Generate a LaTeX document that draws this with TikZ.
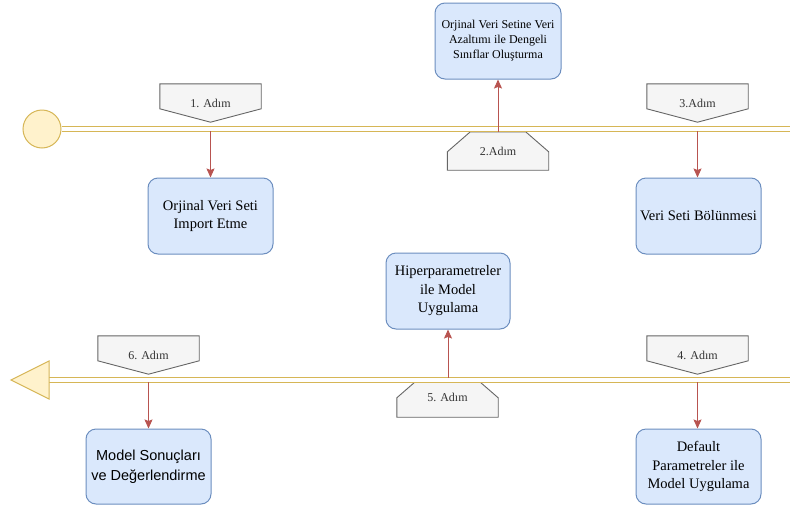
\documentclass[tikz,border=0pt]{standalone}
\usepackage{fontspec}
\setmainfont{Liberation Serif}
\newfontfamily\arialf{Liberation Sans}
\usetikzlibrary{arrows.meta,calc}
\pgfdeclarelayer{bg}
\pgfsetlayers{bg,main}
\definecolor{boxfill}{HTML}{DAE8FC}
\definecolor{boxline}{HTML}{6C8EBF}
\definecolor{stepfill}{HTML}{F5F5F5}
\definecolor{stepline}{HTML}{666666}
\definecolor{steptext}{HTML}{333333}
\definecolor{railc}{HTML}{D6B656}
\definecolor{railfill}{HTML}{FFF2CC}
\definecolor{arrc}{HTML}{B85450}
\begin{document}
\begin{tikzpicture}[x=1pt,y=-1pt,
 box/.style={draw=boxline,fill=boxfill,line width=1pt,rounded corners=10pt,
   minimum width=125pt,minimum height=76pt,align=center,inner sep=2pt,
   font=\fontsize{14.5}{18.5}\selectfont},
 steplbl/.style={minimum width=101pt,minimum height=38pt,inner sep=0pt,
   text=steptext,font=\fontsize{12}{14}\selectfont},
 stepshape/.style={draw=stepline,fill=stepfill,line width=0.9pt},
 rail/.style={draw=railc,double=white,double distance=4pt,line width=1.1pt},
 railend/.style={draw=railc,fill=railfill,line width=1pt},
 arr/.style={draw=arrc,line width=1pt,-{Stealth[length=9pt,width=8pt,inset=1.5pt]}}]

\useasboundingbox (0,0) rectangle (790,509);

% top rail
\node[railend,circle,minimum size=38pt,inner sep=0pt] (start) at (42,129) {};
\coordinate (r1end) at (790,129);
\draw[rail] (start.east) -- (r1end);

% bottom rail
\coordinate (tip) at (11,380);
\coordinate (tbase) at (49,380);
\coordinate (r2end) at (790,380);
\draw[rail] (tbase) -- (r2end);
\draw[railend] (tip) -- ([yshift=19pt]tbase) -- ([yshift=-19pt]tbase) -- cycle;

% boxes
\node[box] (b1) at (210.5,216) {Orjinal Veri Seti\\Import Etme};
\node[box,minimum width=126pt,font=\fontsize{12}{15}\selectfont] (b2) at (498,41)
  {Orjinal Veri Setine Veri\\Azaltımı ile Dengeli\\Sınıflar Oluşturma};
\node[box] (b3) at (698.5,216) {Veri Seti Bölünmesi};
\node[box,minimum width=124pt] (b5) at (448,291) {Hiperparametreler\\ile Model\\Uygulama};
\node[box,minimum height=75pt,font=\arialf\fontsize{14.5}{19.5}\selectfont] (b6) at (148.5,466.5)
  {Model Sonuçları\\ve Değerlendirme};
\node[box,minimum height=75pt] (b4) at (698.5,466.5) {Default\\Parametreler ile\\Model Uygulama};

% step labels
\node[steplbl] (s1) at (210.5,103) {1. Adım};
\node[steplbl] (s3) at (697.5,103) {3.Adım};
\node[steplbl] (s6) at (148.5,355) {6. Adım};
\node[steplbl] (s4) at (697.5,355) {4. Adım};
\node[steplbl] (s2) at (498,151) {2.Adım};
\node[steplbl,minimum height=39pt] (s5) at (447.5,397.5) {5. Adım};

\begin{pgfonlayer}{bg}
\foreach \s in {s1,s3,s6,s4}{
  \draw[stepshape] (\s.north west) -- (\s.north east) -- ([yshift=-25pt]\s.north east)
    -- (\s.south) -- ([yshift=-25pt]\s.north west) -- cycle;
}
\foreach \s in {s2,s5}{
  \draw[stepshape] (\s.south west) -- (\s.south east) -- ([yshift=-20pt]\s.north east)
    -- ([xshift=-23pt]\s.north east) -- ([xshift=23pt]\s.north west)
    -- ([yshift=-20pt]\s.north west) -- cycle;
}
\end{pgfonlayer}

% arrows
\draw[arr] ($(s1.south)+(0,9)$) -- (s1.south |- b1.north);
\draw[arr] ($(s3.south)+(0,9)$) -- (s3.south |- b3.north);
\draw[arr] ($(s6.south)+(0,8)$) -- (s6.south |- b6.north);
\draw[arr] ($(s4.south)+(0,8)$) -- (s4.south |- b4.north);
\draw[arr] (s2.north) -- (s2.north |- b2.south);
\draw[arr] (b5.south |- s5.north) -- (b5.south);
\end{tikzpicture}
\end{document}
